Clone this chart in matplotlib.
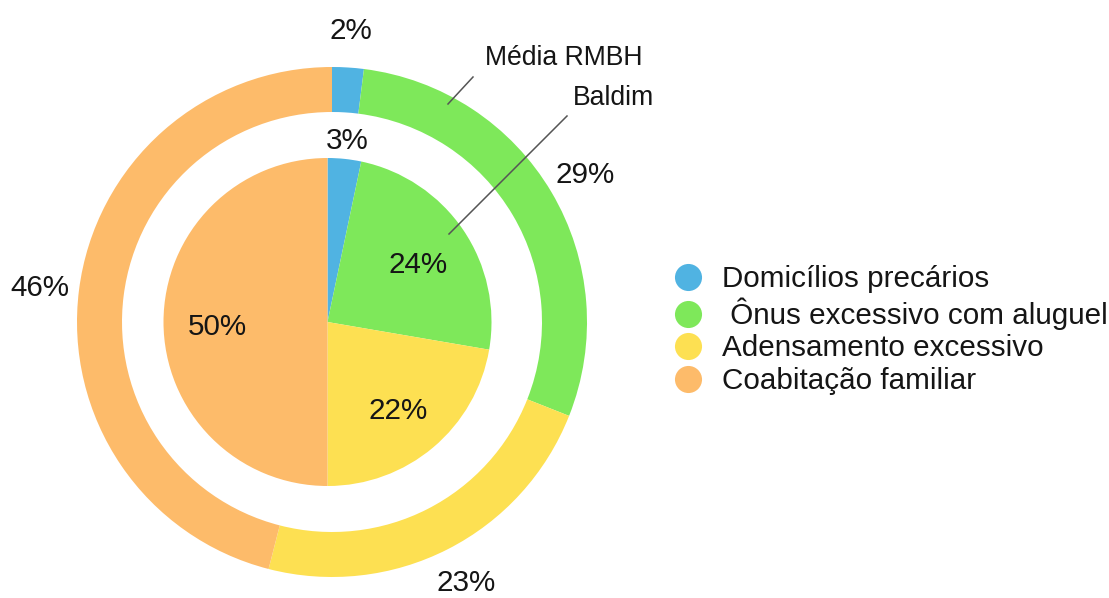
import matplotlib
matplotlib.use("Agg")
import matplotlib.pyplot as plt
from matplotlib.lines import Line2D
import numpy as np

plt.rcParams['font.family'] = ['Liberation Sans', 'DejaVu Sans']

categories = ["Domicílios precários", " Ônus excessivo com aluguel",
              "Adensamento excessivo", "Coabitação familiar"]
colors = ["#50B3E2", "#7EE85A", "#FDE052", "#FDBB6A"]
media_rmbh = [2, 29, 23, 46]          # outer ring
baldim = [3.3, 24.4, 22.3, 50.0]      # inner pie

W, H = 1109, 598
fig = plt.figure(figsize=(W / 100, H / 100), dpi=100)
ax = fig.add_axes([0, 0, 1, 1])
ax.set_xlim(0, W)
ax.set_ylim(0, H)
ax.set_aspect('equal')
ax.axis('off')


def Y(py):
    return H - py


fmt = lambda p: f"{round(p):d}%"
FS = 21.3
TXT = "#151515"

# outer ring: regional average
_, _, outer_pcts = ax.pie(media_rmbh, colors=colors, startangle=90, counterclock=False,
                          center=(332, Y(322)), radius=255, autopct=fmt, pctdistance=1.155,
                          wedgeprops=dict(width=45, linewidth=0),
                          textprops=dict(fontsize=FS, color=TXT))

# inner pie: Baldim
wedges, _, pcts = ax.pie(baldim, colors=colors, startangle=90, counterclock=False,
                         center=(327.5, Y(322)), radius=164, autopct=fmt,
                         pctdistance=0.67, wedgeprops=dict(linewidth=0),
                         textprops=dict(fontsize=FS, color=TXT))
# the thin first slice gets its label outside
w = wedges[0]
ang = np.deg2rad((w.theta1 + w.theta2) / 2)
cx, cy = w.center
pcts[0].set_position((cx + 1.14 * w.r * np.cos(ang), cy + 1.14 * w.r * np.sin(ang)))

# nudge value labels so the digits sit optically centred
for t in outer_pcts:
    x, y = t.get_position()
    t.set_position((x, y - 3))
for t in pcts:
    x, y = t.get_position()
    t.set_position((x, y - 5))

ax.set_xlim(0, W)
ax.set_ylim(0, H)

# series callouts
ax.plot([448, 473], [Y(104), Y(77)], color="#555555", lw=1.1)
ax.text(485, Y(58), "Média RMBH", fontsize=19.2, va='center', ha='left', color=TXT)
ax.plot([449, 567], [Y(234), Y(116)], color="#555555", lw=1.1)
ax.text(573, Y(98), "Baldim", fontsize=19.2, va='center', ha='left', color=TXT)

handles = [Line2D([], [], marker='o', linestyle='none', markersize=19.5,
                  markerfacecolor=c, markeredgewidth=0) for c in colors]
leg = ax.legend(handles, categories, loc='center left',
                bbox_to_anchor=(673 / W, 1 - 330 / H), bbox_transform=fig.transFigure,
                frameon=False, fontsize=FS, handlelength=1.0, handletextpad=0.64,
                labelspacing=0.15, borderpad=0, borderaxespad=0)
for t in leg.get_texts():
    t.set_color(TXT)

# keep outer value labels fully inside the canvas
renderer = fig.canvas.get_renderer()
for t in outer_pcts:
    bb = t.get_window_extent(renderer)
    if bb.y0 < 1:
        x, y = t.get_position()
        t.set_position((x, y + (1 - bb.y0)))

fig.savefig("out.png", dpi=100)
